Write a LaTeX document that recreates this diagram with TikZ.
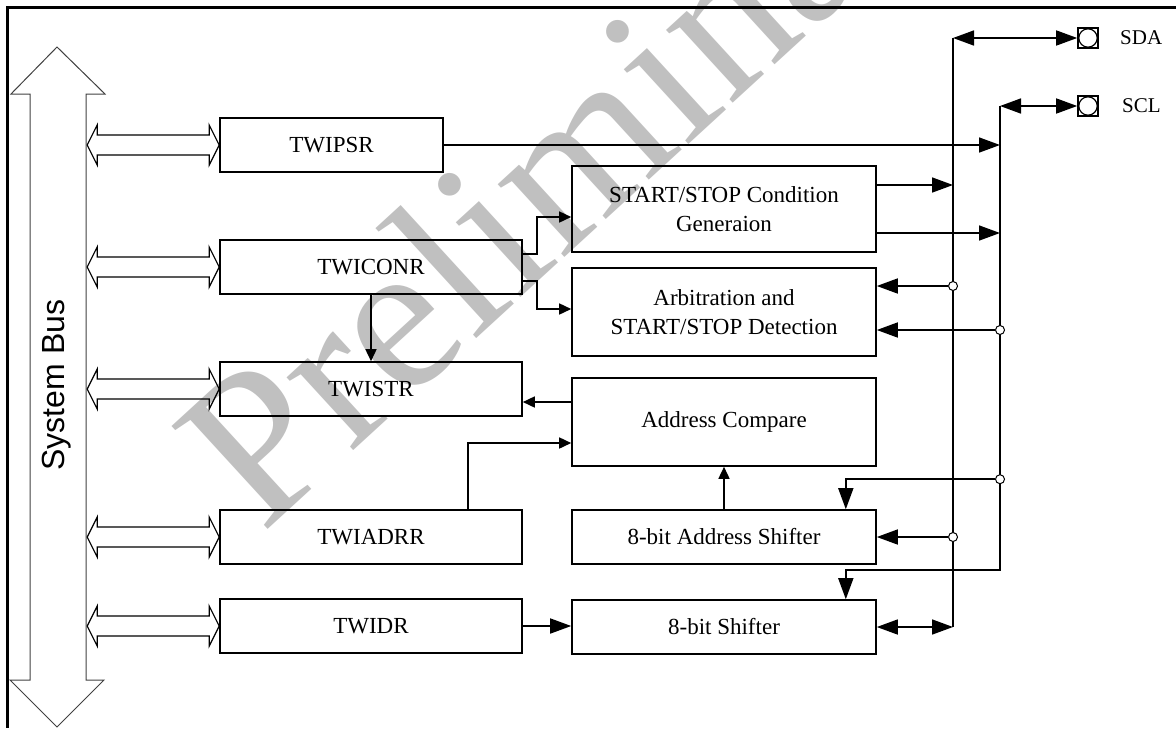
\documentclass[tikz,border=0pt]{standalone}
\usepackage{fontspec}
\setmainfont{Liberation Serif}
\setsansfont{Liberation Sans}
\usetikzlibrary{arrows.meta,positioning,calc}
\definecolor{MarkGray}{HTML}{C0C0C0}
\tikzset{
  regbox/.style={draw,line width=0.8pt,minimum width=151pt,minimum height=27pt,inner sep=0pt,align=center,font=\fontsize{11.5}{14.2}\selectfont},
  unitbox/.style={regbox,minimum width=152pt},
  bigarrow/.style={-{Triangle[length=10.5pt,width=7.5pt]},line width=0.8pt},
  smallarrow/.style={-{Triangle[length=6pt,width=5.5pt]},line width=0.8pt},
  wire/.style={line width=0.8pt},
  tap/.style={draw,line width=0.6pt},
  junction/.style={circle,draw,fill=white,line width=0.5pt,inner sep=0pt,minimum size=4.5pt},
  pinbox/.style={draw,line width=0.8pt,minimum size=10pt,inner sep=0pt,path picture={\draw[line width=0.6pt] (path picture bounding box.center) circle (4.6pt);}},
  pinlabel/.style={font=\fontsize{10.5}{12}\selectfont,inner sep=0pt},
  watermark/.style={text=MarkGray,font=\fontsize{107.5}{108}\selectfont,rotate=42.5,anchor=base west,inner sep=0pt}
}
% hollow double arrow between the bus and a register
\newcommand{\taparrow}[1]{%
  \draw[tap] (#1.west) -- ([shift={(-10,-20)}]#1.west) -- ([shift={(-10,-10)}]#1.west)
    -- ([shift={(-122,-10)}]#1.west) -- ([shift={(-122,-20)}]#1.west) -- ([shift={(-132,0)}]#1.west)
    -- ([shift={(-122,20)}]#1.west) -- ([shift={(-122,10)}]#1.west) -- ([shift={(-10,10)}]#1.west)
    -- ([shift={(-10,20)}]#1.west) -- cycle;}
\begin{document}
\begin{tikzpicture}[x=0.5pt,y=-0.5pt]
\useasboundingbox (0,0) rectangle (1176,728);
\begin{scope}
\clip (0,0) rectangle (1176,728);
\node[watermark] (wm) at (262,535) {Preliminary};
\end{scope}
\draw[line width=1.5pt] (1176,7) -- (7,7) -- (7,728);
% system bus
\draw[line width=0.5pt,draw=black!75] (57,47) -- (105,94) -- (86,94) -- (86,680) -- (104,680) -- (57,727)
  -- (10,680) -- (30,680) -- (30,94) -- (11,94) -- cycle;
\node[rotate=90,font=\sffamily\fontsize{16}{18}\selectfont] (bus) at (57,385) {System Bus};
% registers
\node[regbox,minimum width=111.5pt] (psr) at (331.5,145) {TWIPSR};
\node[regbox] (con) at (371,267) {TWICONR};
\node[regbox] (str) at (371,389) {TWISTR};
\node[regbox] (adr) at (371,537) {TWIADRR};
\node[regbox] (dr) at (371,626) {TWIDR};
\foreach \r in {psr,con,str,adr,dr} {\taparrow{\r}}
% units
\node[unitbox,minimum height=43pt] (gen) at (724,209) {START/STOP Condition\\Generaion};
\node[unitbox,minimum height=44pt] (arb) at (724,312) {Arbitration and\\START/STOP Detection};
\node[unitbox,minimum height=44pt] (cmp) at (724,422) {Address Compare};
\node[unitbox,below=21.2pt of cmp] (ash) {8-bit Address Shifter};
\node[unitbox,below=17.2pt of ash] (sh) {8-bit Shifter};
% pins
\node[pinbox] (sdapin) at (1088,38) {};
\node[pinbox] (sclpin) at (1088,106) {};
\node[pinlabel,right=10.5pt of sdapin] (sdatext) {SDA};
\node[pinlabel,right=11.5pt of sclpin] (scltext) {SCL};
\coordinate (sdatop) at (953,38);
\coordinate (scltop) at (1000,106);
\coordinate (sdabot) at (sh.east -| sdatop);
\coordinate (sclbot) at (1000,570);
\draw[wire] (sdatop) -- (sdabot);
\draw[bigarrow] (scltop) -- (sclbot) -| ([xshift=-15.5pt]sh.north east);
\draw[bigarrow,{Triangle[length=10.5pt,width=7.5pt]}-{Triangle[length=10.5pt,width=7.5pt]}] (sdatop) -- (sdapin.west);
\draw[bigarrow,{Triangle[length=10.5pt,width=7.5pt]}-{Triangle[length=10.5pt,width=7.5pt]}] (scltop) -- (sclpin.west);
\draw[bigarrow,{Triangle[length=10.5pt,width=7.5pt]}-{Triangle[length=10.5pt,width=7.5pt]}] (sh.east) -- (sdabot);
% register and unit links
\draw[bigarrow] (psr.east) -- (psr.east -| scltop);
\draw[bigarrow] ([yshift=12pt]gen.east) -- ([yshift=12pt]gen.east -| sdatop);
\draw[bigarrow] ([yshift=-12pt]gen.east) -- ([yshift=-12pt]gen.east -| scltop);
\draw[smallarrow] ([yshift=6.5pt]con.east) -- ++(7pt,0) |- ([yshift=-4pt]gen.west);
\draw[smallarrow] ([yshift=-7pt]con.east) -- ++(7pt,0) |- ([yshift=1.5pt]arb.west);
\draw[smallarrow] (con.south) -- (str.north);
\draw[smallarrow] ([yshift=10pt]cmp.west) -- ([yshift=10pt]cmp.west -| str.east);
\draw[smallarrow] ([xshift=48.5pt]adr.north) |- ([yshift=-10.5pt]cmp.west);
\draw[smallarrow] (ash.north) -- (cmp.south);
\draw[bigarrow] (dr.east) -- (dr.east -| sh.west);
% taps on SDA / SCL
\node[junction] (jda1) at ([yshift=13pt]arb.east -| sdatop) {};
\node[junction] (jcl1) at ([yshift=-9pt]arb.east -| scltop) {};
\node[junction] (jcl2) at ([yshift=15pt]ash.north -| scltop) {};
\node[junction] (jda2) at (ash.east -| sdatop) {};
\draw[bigarrow] (jda1) -- (jda1 -| arb.east);
\draw[bigarrow] (jcl1) -- (jcl1 -| arb.east);
\draw[bigarrow] (jcl2) -| ([xshift=-15.5pt]ash.north east);
\draw[bigarrow] (jda2) -- (ash.east);
\end{tikzpicture}
\end{document}
